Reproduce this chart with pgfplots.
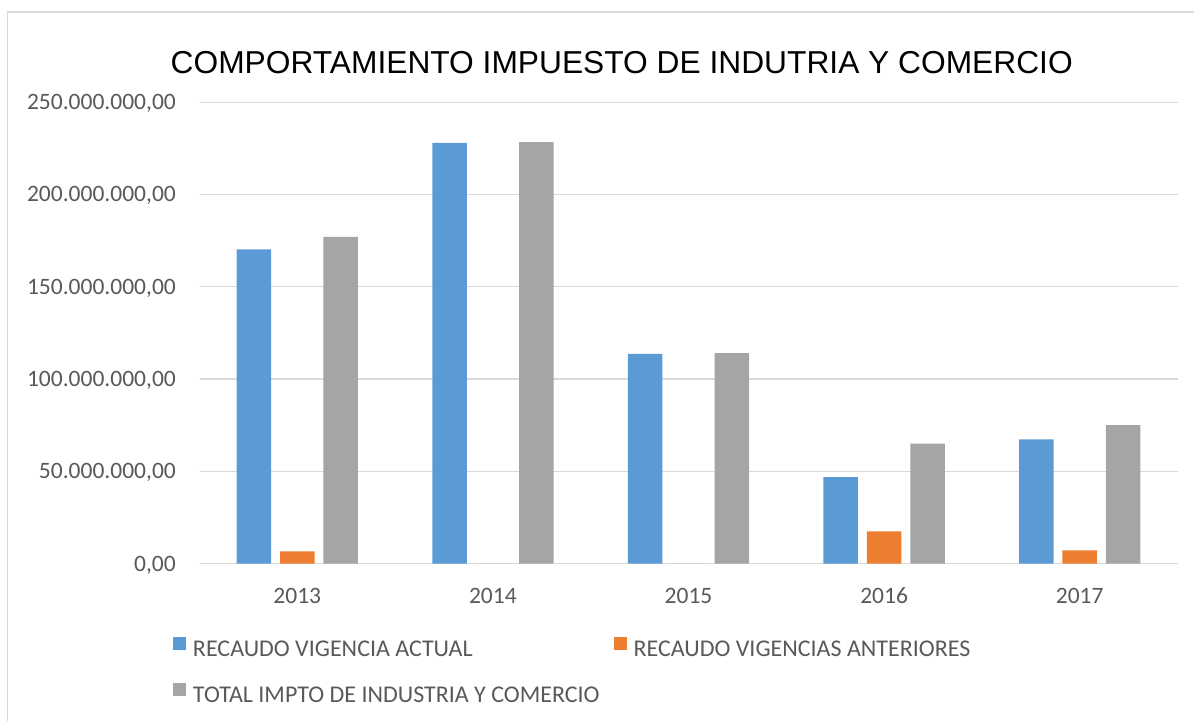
\documentclass[border=0pt]{standalone}
\usepackage{graphicx}
\usepackage{fontspec}
\setmainfont{Carlito}
\newfontfamily\titlefont{Liberation Sans}
\usepackage{pgfplots}
\pgfplotsset{compat=1.18}
\definecolor{cblue}{HTML}{5B9BD5}
\definecolor{corange}{HTML}{ED7D31}
\definecolor{cgray}{HTML}{A5A5A5}
\definecolor{ctext}{HTML}{595959}
\definecolor{cgrid}{HTML}{D9D9D9}
\begin{document}
\begin{tikzpicture}
\path[use as bounding box] (0,0) rectangle (1194bp,721bp);
\draw[cgrid, line width=1.6bp] (7.3bp,0bp) -- (7.3bp,708.7bp) -- (1194bp,708.7bp);
\node[anchor=base, inner sep=0pt] at (621.7bp,647.7bp) {\resizebox{902bp}{\height}{\titlefont\fontsize{31.7bp}{38bp}\selectfont COMPORTAMIENTO IMPUESTO DE INDUTRIA Y COMERCIO}};
\begin{axis}[
  at={(199.5bp,157.3bp)}, anchor=south west,
  scale only axis, width=978bp, height=461.5bp,
  xmin=-0.5, xmax=4.5, ymin=0, ymax=250000000,
  ybar=8.9bp, bar width=34.5bp,
  axis line style={draw=none},
  major tick length=0pt,
  ymajorgrids, grid style={cgrid, line width=1.3bp},
  scaled y ticks=false,
  xtick=data, xticklabels={2013,2014,2015,2016,2017},
  ytick={0,50000000,100000000,150000000,200000000,250000000},
  yticklabels={{0,00},{50.000.000,00},{100.000.000,00},{150.000.000,00},{200.000.000,00},{250.000.000,00}},
  /pgf/number format/assume math mode=true,
  y tick label style={anchor=base east, inner sep=0pt, xshift=-23.5bp, yshift=-7.4bp, text=ctext, font=\fontsize{23.5bp}{28bp}\selectfont},
  x tick label style={anchor=base, inner sep=0pt, yshift=-39.6bp, text=ctext, font=\fontsize{23.5bp}{28bp}\selectfont},
  legend columns=2,
  legend image code/.code={\fill[#1] (0bp,0bp) rectangle (13bp,13bp);},
  legend style={at={(axis description cs:-0.0271,-0.1578)}, anchor=north west, draw=none, fill=none, inner sep=0pt, outer sep=0pt,
    font=\fontsize{24bp}{28bp}\selectfont, text=ctext,
    nodes={inner sep=0pt, text height=13bp, text depth=0bp},
    row sep=27bp,
    /tikz/every odd column/.append style={column sep=7bp},
    /tikz/every even column/.append style={column sep=14bp}},
  legend cell align=left,
]
\addplot[draw=none, fill=cblue] coordinates {(0,170300000) (1,227900000) (2,113600000) (3,46900000) (4,67300000)};
\addplot[draw=none, fill=corange] coordinates {(0,6700000) (1,0) (2,0) (3,17500000) (4,7200000)};
\addplot[draw=none, fill=cgray] coordinates {(0,177100000) (1,228400000) (2,114100000) (3,65000000) (4,75100000)};
\legend{RECAUDO VIGENCIA ACTUAL, RECAUDO VIGENCIAS ANTERIORES, TOTAL IMPTO DE INDUSTRIA Y COMERCIO}
\end{axis}
\end{tikzpicture}
\end{document}
